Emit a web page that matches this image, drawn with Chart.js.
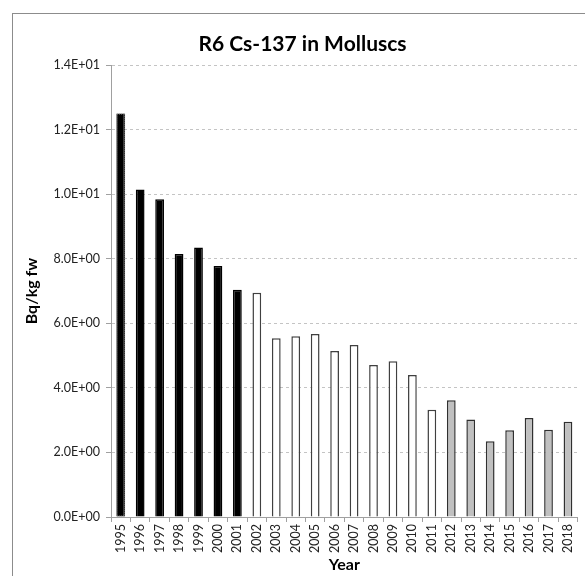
<!DOCTYPE html>
<html>
<head>
<meta charset="utf-8">
<script src="https://cdn.jsdelivr.net/npm/chart.js@4/dist/chart.umd.min.js"></script>
<style>
  html, body { margin: 0; padding: 0; background: #fff; }
  #wrap { width: 585px; height: 576px; position: relative; }
</style>
</head>
<body>
<div id="wrap"><canvas id="chart" width="585" height="576"></canvas></div>
<script>
// years on the x axis
var years = ['1995','1996','1997','1998','1999','2000','2001','2002','2003','2004','2005','2006',
             '2007','2008','2009','2010','2011','2012','2013','2014','2015','2016','2017','2018'];
// Cs-137 activity, Bq/kg fresh weight
var cs137 = [12.5, 10.15, 9.85, 8.15, 8.35, 7.78, 7.04, 6.95, 5.54, 5.6, 5.67, 5.14,
             5.33, 4.71, 4.83, 4.40, 3.32, 3.62, 3.02, 2.35, 2.69, 3.07, 2.70, 2.95];
// period each bar belongs to (sets its fill)
var period = ['a','a','a','a','a','a','a','b','b','b','b','b',
              'b','b','b','b','b','c','c','c','c','c','c','c'];

var fills   = { a: '#000000', b: '#ffffff', c: '#c0c0c0' };
var borders = { a: '#000000', b: '#404040', c: '#303030' };

function sci(v) {
  // Excel style 1.4E+01
  if (v === 0) return '0.0E+00';
  var e = Math.floor(Math.log10(Math.abs(v)));
  var m = v / Math.pow(10, e);
  var es = (e < 0 ? '-' : '+') + (Math.abs(e) < 10 ? '0' : '') + Math.abs(e);
  return m.toFixed(1) + 'E' + es;
}

// outer frame of the chart object
var framePlugin = {
  id: 'frame',
  beforeDraw: function(chart) {
    var ctx = chart.ctx;
    ctx.save();
    ctx.fillStyle = '#fff';
    ctx.fillRect(0, 0, chart.width, chart.height);
    ctx.strokeStyle = '#8c8c8c';
    ctx.lineWidth = 1;
    ctx.strokeRect(12.5, 13.5, 640, 640);
    ctx.restore();
  },
  // first bar has a dotted outline in the original
  afterDatasetsDraw: function(chart) {
    var bar = chart.getDatasetMeta(0).data[0];
    if (!bar) return;
    var p = bar.getProps(['x', 'y', 'base', 'width'], true);
    var ctx = chart.ctx;
    ctx.save();
    ctx.strokeStyle = '#9a9a9a';
    ctx.lineWidth = 1;
    ctx.setLineDash([1, 1]);
    ctx.strokeRect(p.x - p.width / 2 + 0.5, p.y + 0.5, p.width - 1, p.base - p.y - 1);
    ctx.restore();
  }
};

var font = "Lato, 'Open Sans', sans-serif";

new Chart(document.getElementById('chart'), {
  type: 'bar',
  data: {
    labels: years,
    datasets: [{
      data: cs137,
      backgroundColor: period.map(function(p){ return fills[p]; }),
      borderColor: period.map(function(p){ return borders[p]; }),
      borderWidth: 1.5,
      barPercentage: 0.45,
      categoryPercentage: 1.0
    }]
  },
  options: {
    responsive: false,
    animation: false,
    layout: { padding: { left: 22, right: 2, top: 0, bottom: 2 } },
    plugins: {
      legend: { display: false },
      tooltip: { enabled: false },
      title: {
        display: true,
        text: 'R6 Cs-137 in Molluscs',
        color: '#000',
        font: { family: font, size: 21, weight: 'bold' },
        padding: { top: 32, bottom: 8 }
      }
    },
    scales: {
      x: {
        grid: { drawOnChartArea: false, drawTicks: true, tickLength: 5, color: '#a0a0a0', offset: true },
        border: { color: '#a0a0a0' },
        ticks: {
          color: '#222', font: { family: font, size: 12.5 },
          minRotation: 90, maxRotation: 90, autoSkip: false, padding: 2
        },
        title: {
          display: true, text: 'Year', color: '#000',
          font: { family: font, size: 16, weight: 'bold' },
          padding: { top: 2, bottom: 0 }
        },
        afterFit: function(scale) { scale.height = 57; }
      },
      y: {
        min: 0, max: 14,
        grid: {
          color: '#c4c4c4', tickLength: 5,
          tickColor: '#a0a0a0', tickBorderDash: [], lineWidth: 1
        },
        border: { color: '#a0a0a0', dash: [3, 3] },
        ticks: {
          stepSize: 2, color: '#222', font: { family: font, size: 12.5 }, padding: 6,
          callback: function(v) { return sci(v); }
        },
        title: {
          display: true, text: 'Bq/kg fw', color: '#000',
          font: { family: font, size: 16, weight: 'bold' },
          padding: { top: 0, bottom: 2 }
        },
        afterFit: function(scale) { scale.width = 89; }
      }
    }
  },
  plugins: [framePlugin]
});
</script>
</body>
</html>
